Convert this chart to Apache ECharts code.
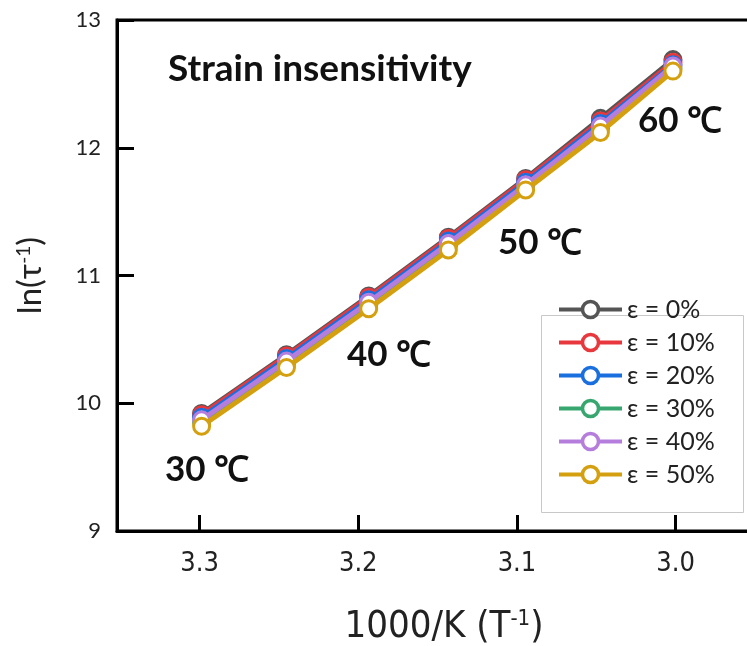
<!DOCTYPE html>
<html>
<head>
<meta charset="utf-8">
<script src="https://cdn.jsdelivr.net/npm/echarts@6/dist/echarts.min.js"></script>
<style>
  html, body { margin: 0; padding: 0; background: #fff; }
  #chart { width: 747px; height: 646px; }
</style>
</head>
<body>
<div id="chart"></div>
<script>
// Inverse temperature (1000/T) for 30..60 °C
const invTemp = [3.2987, 3.2452, 3.1934, 3.1432, 3.0945, 3.0474, 3.0017];

// ln(1/tau) for each strain level
const eps0  = [9.92, 10.38, 10.84, 11.30, 11.76, 12.23, 12.69];
const eps10 = [9.91, 10.37, 10.83, 11.29, 11.75, 12.21, 12.67];
const eps20 = [9.89, 10.35, 10.81, 11.27, 11.73, 12.19, 12.65];
const eps30 = [9.85, 10.31, 10.77, 11.23, 11.70, 12.15, 12.62];
const eps40 = [9.87, 10.33, 10.79, 11.25, 11.71, 12.17, 12.64];
const eps50 = [9.82, 10.28, 10.74, 11.20, 11.67, 12.12, 12.60];

const seriesNames = ['ε = 0%', 'ε = 10%', 'ε = 20%', 'ε = 30%', 'ε = 40%', 'ε = 50%'];
const seriesValues = [eps0, eps10, eps20, eps30, eps40, eps50];
const seriesColors = ['#555555', '#e8383d', '#1a6fdf', '#37a76f', '#b57edc', '#d4a010'];

const xTicks = [3.0, 3.1, 3.2, 3.3];

const tempLabels = ['30 ℃', '40 ℃', '50 ℃', '60 ℃'];
const tempLabelPos = [[165, 470], [347, 355], [498, 243], [638, 121]];

const narrowFont = "'Liberation Sans Narrow', 'DejaVu Sans Condensed', 'Roboto Condensed', sans-serif";

const chart = echarts.init(document.getElementById('chart'), null, { renderer: 'canvas' });

const series = seriesNames.map((name, i) => ({
  name: name,
  type: 'line',
  data: invTemp.map((x, j) => [x, seriesValues[i][j]]),
  symbol: 'circle',
  symbolSize: 16,
  showAllSymbol: true,
  lineStyle: { color: seriesColors[i], width: 5 },
  itemStyle: { color: '#fff', borderColor: seriesColors[i], borderWidth: 3 },
  emphasis: { disabled: true },
  z: 2 + i
}));

const graphics = [
  {
    type: 'text', x: 168, y: 69, z: 10,
    style: { text: 'Strain insensitivity', font: 'bold 37px Lato', fill: '#111', textVerticalAlign: 'middle' }
  },
  {
    type: 'rect', left: 541, top: 315, z: 5,
    shape: { width: 202, height: 197 },
    style: { fill: '#fff', stroke: '#c8c8c8', lineWidth: 1 }
  }
].concat(tempLabels.map((t, i) => ({
  type: 'text', x: tempLabelPos[i][0], y: tempLabelPos[i][1], z: 10,
  style: { text: t, font: 'bold 35px Lato', fill: '#111', textVerticalAlign: 'middle' }
})));

chart.setOption({
  animation: false,
  backgroundColor: '#fff',
  grid: {
    left: 117, top: 20, bottom: 115, right: -8,
    outerBoundsMode: 'none',
    containLabel: false,
    show: true, borderColor: '#000', borderWidth: 3, backgroundColor: 'transparent'
  },
  xAxis: {
    type: 'value',
    inverse: true,
    min: 2.95,
    max: 3.352,
    splitLine: { show: false },
    axisLine: { show: true, lineStyle: { color: '#000', width: 3 } },
    axisTick: { show: true, inside: true, length: 16, customValues: xTicks, lineStyle: { color: '#000', width: 3 } },
    axisLabel: {
      customValues: xTicks,
      formatter: v => v.toFixed(1),
      fontFamily: narrowFont, fontSize: 27, color: '#222', margin: 19
    },
    name: '1000/K (T{sup|-1})',
    nameLocation: 'middle',
    nameGap: 77,
    nameTextStyle: {
      fontFamily: narrowFont, fontSize: 38, color: '#222', padding: [0, 0, 0, 16],
      rich: { sup: { fontFamily: narrowFont, fontSize: 22, color: '#222', padding: [0, 0, 16, 0] } }
    }
  },
  yAxis: {
    type: 'value',
    min: 9, max: 13, interval: 1,
    splitLine: { show: false },
    axisLine: { show: true, lineStyle: { color: '#000', width: 3 } },
    axisTick: { show: true, inside: true, length: 17, lineStyle: { color: '#000', width: 3 } },
    axisLabel: { fontFamily: 'Lato', fontSize: 22, color: '#222', margin: 16 },
    name: 'ln(τ{sup|-1})',
    nameLocation: 'middle',
    nameGap: 70,
    nameTextStyle: {
      fontFamily: 'Lato', fontSize: 33, color: '#222',
      rich: { sup: { fontFamily: 'Lato', fontSize: 19, color: '#222', padding: [0, 0, 14, 0] } }
    }
  },
  legend: {
    data: seriesNames,
    orient: 'vertical',
    left: 552, top: 292,
    itemWidth: 63, itemHeight: 20, itemGap: 8,
    z: 8,
    lineStyle: { width: 4 },
    itemStyle: { borderWidth: 3.5 },
    textStyle: { fontFamily: 'Lato', fontSize: 25, color: '#222', lineHeight: 20 },
    selectedMode: false
  },
  graphic: graphics,
  series: series
});
</script>
</body>
</html>
